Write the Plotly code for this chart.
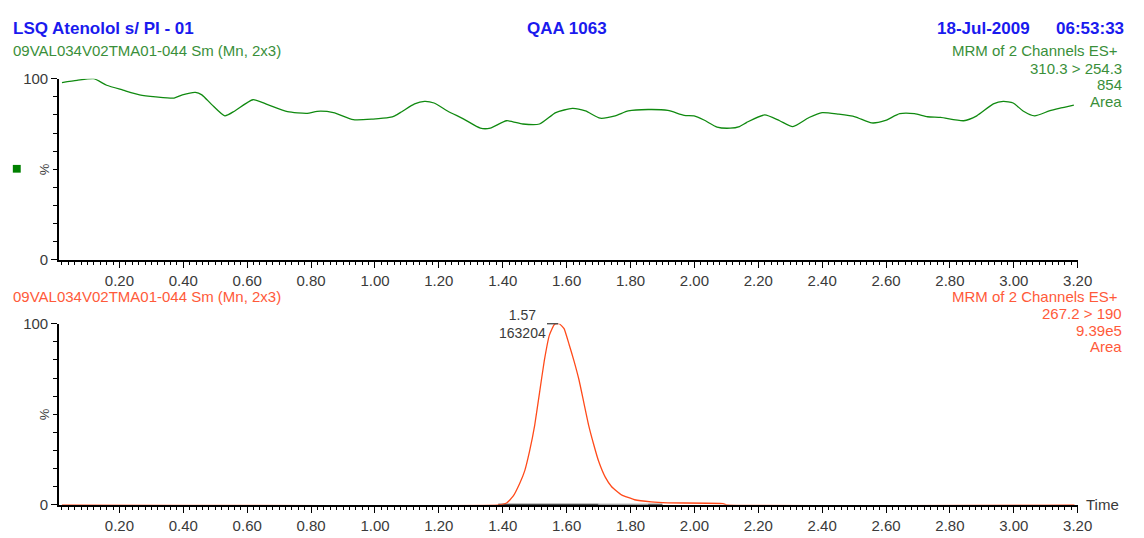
import plotly.graph_objects as go

# ---- data ----
top_time = [0.02, 0.067, 0.119, 0.160, 0.211, 0.263, 0.314, 0.371, 0.397, 0.438, 0.458, 0.489,
            0.530, 0.561, 0.618, 0.664, 0.726, 0.788, 0.819, 0.870, 0.932, 0.994, 1.045, 1.062,
            1.084, 1.124, 1.155, 1.185, 1.227, 1.278, 1.330, 1.361, 1.412, 1.463, 1.515, 1.566,
            1.618, 1.659, 1.705, 1.752, 1.793, 1.855, 1.917, 1.968, 1.999, 2.030, 2.071, 2.112,
            2.141, 2.164, 2.220, 2.267, 2.308, 2.359, 2.400, 2.452, 2.503, 2.555, 2.596, 2.643,
            2.689, 2.730, 2.771, 2.843, 2.884, 2.936, 2.967, 2.998, 3.029, 3.065, 3.111, 3.142, 3.188]
top_pct = [97.9, 99.1, 100.0, 96.4, 93.7, 91.1, 90.0, 89.3, 91.1, 92.5, 91.1, 85.7,
           79.5, 82.2, 88.4, 85.7, 81.8, 80.9, 82.0, 81.3, 77.4, 77.7, 78.6, 79.5,
           81.8, 86.1, 87.5, 86.6, 82.2, 77.7, 72.7, 72.7, 76.8, 75.0, 75.0, 81.3,
           83.6, 82.2, 78.2, 79.5, 82.2, 83.0, 82.5, 79.8, 79.5, 77.2, 73.3, 72.7,
           73.6, 75.9, 80.0, 76.8, 73.6, 78.6, 81.3, 80.4, 79.0, 75.6, 76.8, 80.7,
           80.7, 79.0, 78.6, 76.8, 79.5, 86.1, 87.5, 86.6, 82.2, 79.5, 82.2, 83.6, 85.4]

bot_time = [0.02, 1.386, 1.412, 1.432, 1.453, 1.469, 1.484, 1.500, 1.515, 1.530, 1.546, 1.561,
            1.570, 1.577, 1.592, 1.608, 1.623, 1.639, 1.654, 1.669, 1.685, 1.700, 1.721, 1.741,
            1.772, 1.813, 1.865, 1.917, 2.090, 2.100, 3.190]
bot_pct = [0.0, 0.0, 1.0, 4.6, 11.8, 18.9, 29.6, 43.9, 61.7, 79.5, 93.7, 99.5,
           100.0, 100.0, 97.3, 88.4, 79.5, 68.8, 56.3, 43.9, 33.2, 24.2, 15.3, 10.0,
           5.5, 2.8, 1.6, 1.1, 0.7, 0.0, 0.0]

peak_rt = 1.57
peak_area = 163204
peak_mark = (1.556, 100)
peak_label_pos = (1.463, 100)
base_black = ([1.386, 1.70], [0, 0])
base_gray = ([1.70, 1.855], [0, 0])
base_dark = ([1.855, 1.90], [0, 0])

x_major = [round(0.1 * i, 2) for i in range(1, 33)]
x_labels = [("%.2f" % v) if i % 2 == 1 else "" for i, v in enumerate(x_major)]
x_minor = [round(0.02 * i, 2) for i in range(1, 161)]
y_minor = [10, 20, 30, 40, 50, 60, 70, 80, 90]

# ---- style ----
W, H = 1144, 538
FONT = "Liberation Sans, Arial, sans-serif"
BLUE = "#1a1aee"
GREEN_T = "#3a8f3a"
GREEN_L = "#108a10"
ORANGE_T = "#ff5a3a"
ORANGE_L = "#ff4a1a"
TICKC = "#3a3a3a"

def py(p):
    return 1 - p / H

def px(p):
    return p / W

xdom = [px(60), px(1092)]
top_dom = [py(259), py(72)]
bot_dom = [py(512), py(325)]

fig = go.Figure()
fig.add_trace(go.Scatter(x=top_time, y=top_pct, mode="lines", xaxis="x", yaxis="y",
                         line=dict(color=GREEN_L, width=1.3, shape="spline", smoothing=0.6),
                         showlegend=False, cliponaxis=False))
fig.add_trace(go.Scatter(x=base_black[0], y=base_black[1], mode="lines", xaxis="x2", yaxis="y2",
                         line=dict(color="#111111", width=2.2), showlegend=False, cliponaxis=False))
fig.add_trace(go.Scatter(x=base_gray[0], y=base_gray[1], mode="lines", xaxis="x2", yaxis="y2",
                         line=dict(color="#808080", width=2.2), showlegend=False, cliponaxis=False))
fig.add_trace(go.Scatter(x=base_dark[0], y=base_dark[1], mode="lines", xaxis="x2", yaxis="y2",
                         line=dict(color="#333333", width=2.2), showlegend=False, cliponaxis=False))
fig.add_trace(go.Scatter(x=bot_time, y=bot_pct, mode="lines", xaxis="x2", yaxis="y2",
                         line=dict(color=ORANGE_L, width=1.3, shape="spline", smoothing=0.4),
                         showlegend=False, cliponaxis=False))
fig.add_trace(go.Scatter(x=[peak_mark[0]], y=[peak_mark[1]], mode="markers", xaxis="x2", yaxis="y2",
                         marker=dict(symbol="line-ew", size=8, line=dict(color="#444444", width=1.3)),
                         showlegend=False, cliponaxis=False))

def xaxis_cfg(anchor):
    return dict(domain=xdom, anchor=anchor, range=[0.0114, 3.2], showgrid=False, zeroline=False,
                showline=True, linecolor="black", linewidth=2, layer="below traces",
                tickmode="array", tickvals=x_major, ticktext=x_labels,
                ticks="outside", ticklen=6, tickwidth=1.3, tickcolor="black",
                tickfont=dict(family=FONT, size=15, color=TICKC),
                minor=dict(tickmode="array", tickvals=x_minor, ticks="outside", ticklen=3,
                           tickwidth=1, tickcolor="black"))

def yaxis_cfg(anchor, dom):
    return dict(domain=dom, anchor=anchor, range=[0, 100], showgrid=False, zeroline=False,
                showline=True, linecolor="black", linewidth=2, layer="below traces",
                tickmode="array", tickvals=[0, 100], ticktext=["0", "100"],
                ticks="outside", ticklen=6, tickwidth=1.3, tickcolor="black",
                tickfont=dict(family=FONT, size=15, color=TICKC),
                minor=dict(tickmode="array", tickvals=y_minor, ticks="outside", ticklen=4,
                           tickwidth=1, tickcolor="black"))

fig.update_layout(
    width=W, height=H, autosize=False,
    margin=dict(l=0, r=0, t=0, b=0, pad=0),
    paper_bgcolor="white", plot_bgcolor="white",
    xaxis=xaxis_cfg("y"), yaxis=yaxis_cfg("x", top_dom),
    xaxis2=xaxis_cfg("y2"), yaxis2=yaxis_cfg("x2", bot_dom),
)

def ann(text, x, y, color, size=15, xanchor="left", bold=False, textangle=0):
    if bold:
        text = "<b>" + text + "</b>"
    fig.add_annotation(text=text, x=px(x), y=py(y), xref="paper", yref="paper",
                       xanchor=xanchor, yanchor="middle", showarrow=False,
                       textangle=textangle,
                       font=dict(family=FONT, size=size, color=color))

# header
ann("LSQ Atenolol s/ PI - 01", 11, 20, BLUE, 17, bold=True)
ann("QAA 1063", 575, 20, BLUE, 17, xanchor="center", bold=True)
ann("18-Jul-2009", 1046, 20, BLUE, 17, xanchor="right", bold=True)
ann("06:53:33", 1141, 20, BLUE, 17, xanchor="right", bold=True)

# top channel
ann("09VAL034V02TMA01-044 Sm (Mn, 2x3)", 11, 43, GREEN_T)
ann("MRM of 2 Channels ES+", 1135, 43, GREEN_T, xanchor="right")
ann("310.3 > 254.3", 1139, 61, GREEN_T, xanchor="right")
ann("854", 1139, 78, GREEN_T, xanchor="right")
ann("Area", 1139, 96, GREEN_T, xanchor="right")
ann("%", 45, 165, TICKC, 13, xanchor="center", textangle=-90)
fig.add_shape(type="rect", xref="paper", yref="paper",
              x0=px(13), x1=px(21), y0=py(169), y1=py(161),
              fillcolor="#008000", line=dict(width=0))

# bottom channel
ann("09VAL034V02TMA01-044 Sm (Mn, 2x3)", 11, 297, ORANGE_T)
ann("MRM of 2 Channels ES+", 1135, 297, ORANGE_T, xanchor="right")
ann("267.2 > 190", 1139, 314, ORANGE_T, xanchor="right")
ann("9.39e5", 1139, 332, ORANGE_T, xanchor="right")
ann("Area", 1139, 349, ORANGE_T, xanchor="right")
ann("%", 45, 418, TICKC, 13, xanchor="center", textangle=-90)
ann("Time", 1098, 512, TICKC)

# peak label
fig.add_annotation(text="%.2f<br>%d" % (peak_rt, peak_area), x=peak_label_pos[0], y=peak_label_pos[1],
                   xref="x2", yref="y2", xanchor="center", yanchor="middle", align="center",
                   showarrow=False, font=dict(family=FONT, size=14, color=TICKC))

fig.write_html("out.html")
